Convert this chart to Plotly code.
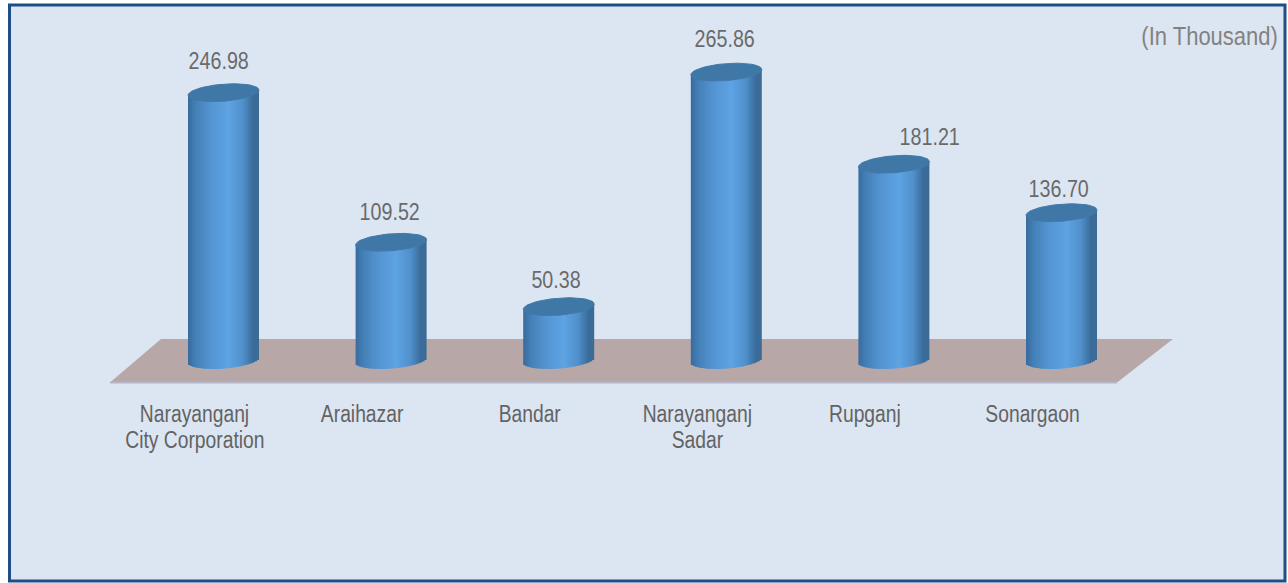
import numpy as np
import plotly.graph_objects as go

# ---------- data ----------
category_first_lines = ["Narayanganj", "Araihazar", "Bandar", "Narayanganj", "Rupganj", "Sonargaon"]
category_second_lines = ["City Corporation", "", "", "Sadar", "", ""]
values = [246.98, 109.52, 50.38, 265.86, 181.21, 136.70]
value_labels = ["246.98", "109.52", "50.38", "265.86", "181.21", "136.70"]
unit_note = "(In Thousand)"

# ---------- layout constants (pixels) ----------
W, H = 1288, 583
STEP = 167.6          # px per category
X0 = 223.5            # px of first bar centre
LABEL_SHIFT = -29     # category labels sit left of the bars
PXV = 1.0885          # px per value unit
Y0 = 361.5            # px of value zero
BASE_LIFT = 1.5       # px the cylinder base sits above value zero
PLOT_BOTTOM = 397
RX, RY, SHEAR = 35.5, 8.5, -0.075
N_STRIPS = 35
STRIP_W = 3.2
LABEL_DX = [-5, -2, -3, -2, 36, -3]
LABEL_DY = [32.5, 30.5, 27.5, 33.5, 27.5, 24.5]
FONT = "Liberation Sans, Arial, sans-serif"
NARROW = 0.82         # the reference's type is a condensed face
NARROW_NOTE = 0.88

stops = [(0.0, "#37699a"), (0.12, "#4581b8"), (0.35, "#5596d4"), (0.58, "#5ea3e3"),
         (0.78, "#5090cc"), (0.92, "#3b6d9c"), (1.0, "#3c6a93")]


def hex2rgb(c):
    return np.array([int(c[i:i + 2], 16) for i in (1, 3, 5)], float)


def grad(t):
    for (a, ca), (b, cb) in zip(stops, stops[1:]):
        if t <= b:
            f = (t - a) / (b - a)
            r = hex2rgb(ca) * (1 - f) + hex2rgb(cb) * f
            return "rgb(%d,%d,%d)" % tuple(r.round())
    return stops[-1][1]


idx = np.arange(len(values))
vals = np.array(values)
fig = go.Figure()

# gradient-shaded cylinder bodies: one bar trace per vertical strip
half = STRIP_W / 2
for dx in np.linspace(-RX + half, RX - half, N_STRIPS):
    bulge = RY * np.sqrt(max(0.0, 1 - (dx / RX) ** 2))
    low = (SHEAR * dx + bulge - BASE_LIFT) / PXV     # lower rim, value units below zero
    tilt = SHEAR * dx / PXV
    fig.add_trace(go.Bar(
        x=idx + dx / STEP,
        y=(vals - tilt) + low,
        base=-low,
        width=STRIP_W / STEP,
        marker=dict(color=grad((dx + RX) / (2 * RX)), line_width=0),
        showlegend=False, hoverinfo="skip",
    ))

# cylinder tops
t = np.linspace(0, 2 * np.pi, 73)
ex, ey = [], []
for i, v in zip(idx, values):
    ex += list(i + RX * np.cos(t) / STEP) + [None]
    ey += list(v - (SHEAR * RX * np.cos(t) + RY * np.sin(t)) / PXV) + [None]
fig.add_trace(go.Scatter(x=ex, y=ey, mode="lines", fill="toself",
                         fillcolor="#3f77a6", line=dict(color="#4279a8", width=1),
                         showlegend=False, hoverinfo="skip"))

annotations = [dict(x=i, y=v, xref="x", yref="y", text=lab, showarrow=False,
                    xshift=dx, yshift=dy, font=dict(size=24, color="#6a6a6a"))
               for i, v, lab, dx, dy in zip(idx, values, value_labels, LABEL_DX, LABEL_DY)]
annotations.append(dict(x=1209.5 / W, y=1 - 36 / H, xref="paper", yref="paper",
                        xanchor="center", yanchor="middle",
                        text=unit_note, showarrow=False,
                        font=dict(size=25, color="#828282")))
annotations += [dict(x=i + LABEL_SHIFT / STEP, y=1 - 440 / H, xref="x", yref="paper",
                     yanchor="middle", text=line, showarrow=False,
                     font=dict(size=23.5, color="#636363"))
                for i, line in zip(idx, category_second_lines) if line]


def px(x):
    return x / W


def py(y):
    return 1 - y / H


def poly(points):
    return "M " + " L ".join(f"{px(a):.5f} {py(b):.5f}" for a, b in points) + " Z"


shapes = [
    dict(type="rect", xref="paper", yref="paper", x0=px(9.5), x1=px(1285), y0=py(581), y1=py(5),
         fillcolor="#dce6f2", line=dict(color="#1f4e86", width=3), layer="below"),
    dict(type="path", xref="paper", yref="paper",
         path=poly([(161, 339), (1173, 339), (1117, 382.5), (110, 382.5)]),
         fillcolor="#b7a7a7", line=dict(width=0), layer="below"),
    dict(type="line", xref="paper", yref="paper", x0=px(110), x1=px(1117), y0=py(382.5), y1=py(382.5),
         line=dict(color="#b5b5c8", width=2), layer="below"),
]

fig.update_layout(
    width=W, height=H, margin=dict(l=0, r=0, t=0, b=0, pad=0),
    paper_bgcolor="white", plot_bgcolor="rgba(0,0,0,0)",
    barmode="overlay", showlegend=False,
    font=dict(family=FONT),
    xaxis=dict(range=[-X0 / STEP, (W - X0) / STEP],
               tickvals=list(idx + LABEL_SHIFT / STEP), ticktext=category_first_lines,
               tickfont=dict(size=23.5, color="#636363"), ticks="", tickangle=0,
               showgrid=False, zeroline=False, showline=False, automargin=False),
    yaxis=dict(domain=[1 - PLOT_BOTTOM / H, 1],
               range=[(Y0 - PLOT_BOTTOM) / PXV, Y0 / PXV],
               showticklabels=False, ticks="", showgrid=False, zeroline=False,
               showline=False, automargin=False),
    shapes=shapes, annotations=annotations,
)

condense = """
document.body.style.margin = '0';
document.querySelectorAll('text.annotation-text, .xtick text').forEach(function (el) {
  if (el.textContent.charAt(0) === '(') {
    var cx = parseFloat(el.getAttribute('x')) || 0;
    var old = el.getAttribute('transform') || '';
    el.setAttribute('transform', old + ' translate(' + cx + ',0) scale(%s,1) translate(' + (-cx) + ',0)');
  } else {
    el.setAttribute('textLength', el.getComputedTextLength() * %s);
    el.setAttribute('lengthAdjust', 'spacingAndGlyphs');
  }
});
""" % (NARROW_NOTE, NARROW)

fig.write_html("out.html", post_script=condense, config=dict(displayModeBar=False))
